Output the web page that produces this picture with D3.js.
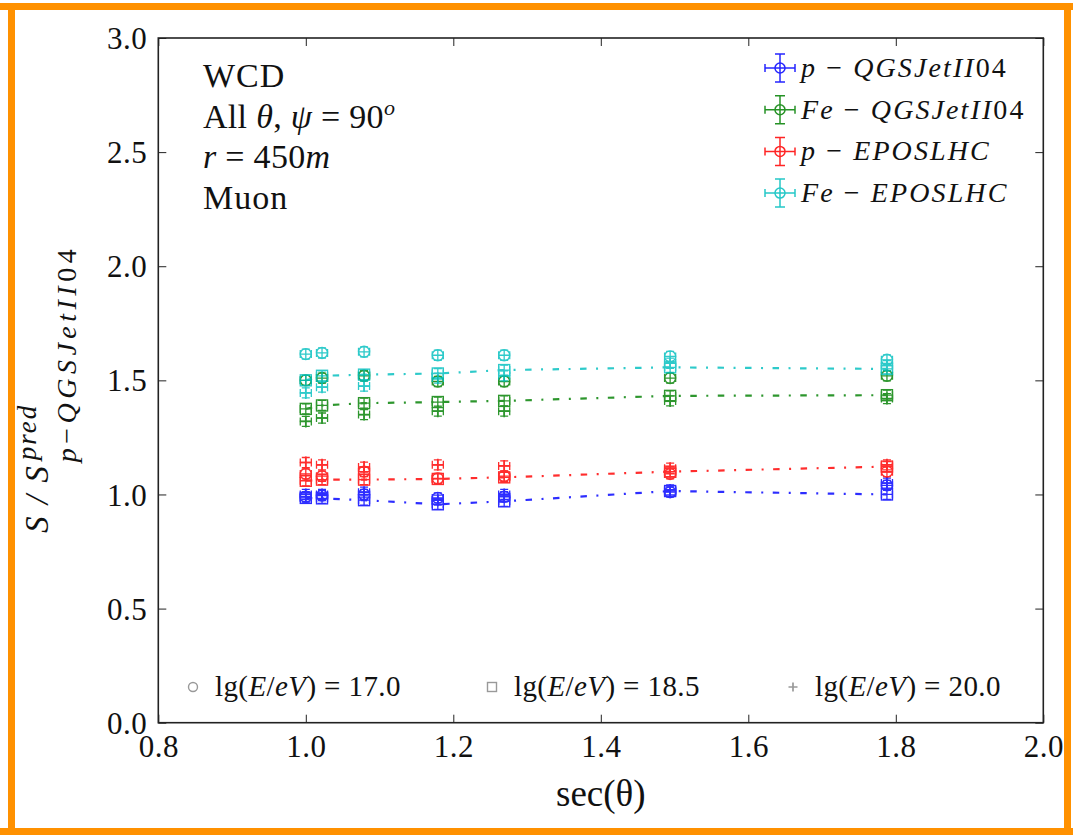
<!DOCTYPE html>
<html>
<head>
<meta charset="utf-8">
<script src="https://cdn.jsdelivr.net/npm/d3@7"></script>
<style>
  html, body { margin: 0; padding: 0; background: #fff; }
  svg { display: block; }
  text { font-family: "Liberation Serif", "DejaVu Serif", serif; fill: #111; }
</style>
</head>
<body>
<svg id="chart" width="1073" height="835"></svg>
<script>
// sec(theta) of the simulated zenith angles
const secTheta = [1.0, 1.022, 1.079, 1.179, 1.269, 1.494, 1.788];

// Energy bins (lg(E/eV))
const energyLabels = ["17.0", "18.5", "20.0"];

// S / S_pred(p-QGSJetII04), one array per primary/model and energy
const pQGS_17  = [0.99, 0.995, 1.00, 0.985, 0.99, 1.01, 1.04];
const pQGS_185 = [0.985, 0.983, 0.975, 0.957, 0.97, 1.015, 1.00];
const pQGS_20  = [1.00, 1.00, 1.01, 0.975, 1.00, 1.02, 1.05];

const feQGS_17  = [1.50, 1.51, 1.52, 1.495, 1.495, 1.51, 1.52];
const feQGS_185 = [1.375, 1.39, 1.40, 1.405, 1.41, 1.432, 1.435];
const feQGS_20  = [1.32, 1.335, 1.35, 1.365, 1.365, 1.41, 1.42];

const pEPOS_17  = [1.09, 1.08, 1.10, 1.07, 1.08, 1.09, 1.10];
const pEPOS_185 = [1.06, 1.065, 1.065, 1.068, 1.075, 1.10, 1.122];
const pEPOS_20  = [1.14, 1.13, 1.12, 1.13, 1.125, 1.115, 1.13];

const feEPOS_17  = [1.615, 1.62, 1.625, 1.61, 1.61, 1.605, 1.59];
const feEPOS_185 = [1.50, 1.52, 1.525, 1.53, 1.545, 1.557, 1.55];
const feEPOS_20  = [1.445, 1.47, 1.475, 1.51, 1.52, 1.575, 1.565];

// Legend names: primary and hadronic model
const seriesPrimary = ["p", "Fe", "p", "Fe"];
const seriesModel   = ["QGSJetII04", "QGSJetII04", "EPOSLHC", "EPOSLHC"];

// Uncertainties (sec(theta) and ratio)
const errSec = 0.0075;
const errRatio = 0.022;

// Axis ticks
const xTicks = [0.8, 1.0, 1.2, 1.4, 1.6, 1.8, 2.0];
const yTicks = [0.0, 0.5, 1.0, 1.5, 2.0, 2.5, 3.0];

// Info text lines
const infoLines = ["WCD", "All θ, ψ = 90o", "r = 450m", "Muon"];

// ---------------------------------------------------------------
const seriesValues = [
  [pQGS_17, pQGS_185, pQGS_20],
  [feQGS_17, feQGS_185, feQGS_20],
  [pEPOS_17, pEPOS_185, pEPOS_20],
  [feEPOS_17, feEPOS_185, feEPOS_20]
];
const seriesColors = ["#0000ff", "#008000", "#ff0000", "#00bfbf"];
const markerTypes = ["circle", "square", "plus"];
const serif = '"Liberation Serif", "DejaVu Serif", serif';

const svg = d3.select("#chart");

// orange frame around the figure
const border = svg.append("g").attr("fill", "#ff9100");
border.append("rect").attr("x", 0).attr("y", 3).attr("width", 1073).attr("height", 7);
border.append("rect").attr("x", 8).attr("y", 3).attr("width", 7).attr("height", 832);
border.append("rect").attr("x", 0).attr("y", 828).attr("width", 1073).attr("height", 7);
border.append("rect").attr("x", 1064).attr("y", 3).attr("width", 7).attr("height", 832);

const plot = { left: 158.3, right: 1043.3, top: 38, bottom: 722.7 };
const x = d3.scaleLinear().domain([0.8, 2.0]).range([plot.left, plot.right]);
const y = d3.scaleLinear().domain([0, 3]).range([plot.bottom, plot.top]);

// axes with inward ticks on all four sides
const tickLen = 8;
const axBottom = svg.append("g").attr("transform", `translate(0,${plot.bottom})`)
  .call(d3.axisBottom(x).tickValues(xTicks).tickSizeInner(-tickLen).tickSizeOuter(0).tickPadding(12).tickFormat(d3.format(".1f")));
const axTop = svg.append("g").attr("transform", `translate(0,${plot.top})`)
  .call(d3.axisTop(x).tickValues(xTicks).tickSizeInner(-tickLen).tickSizeOuter(0).tickFormat(""));
const axLeft = svg.append("g").attr("transform", `translate(${plot.left},0)`)
  .call(d3.axisLeft(y).tickValues(yTicks).tickSizeInner(-tickLen).tickSizeOuter(0).tickPadding(11).tickFormat(d3.format(".1f")));
const axRight = svg.append("g").attr("transform", `translate(${plot.right},0)`)
  .call(d3.axisRight(y).tickValues(yTicks).tickSizeInner(-tickLen).tickSizeOuter(0).tickFormat(""));

[axBottom, axTop, axLeft, axRight].forEach(a => {
  a.attr("font-family", serif);
  a.select(".domain").remove();
  a.selectAll(".tick line").attr("stroke", "#222").attr("stroke-width", 1);
  a.selectAll(".tick text").attr("font-size", 31).attr("fill", "#111").attr("letter-spacing", 0.5);
});
axBottom.selectAll(".tick text").attr("dy", "0.71em");
axLeft.selectAll(".tick text").attr("dy", "0.34em");

svg.append("rect")
  .attr("x", plot.left).attr("y", plot.top)
  .attr("width", plot.right - plot.left).attr("height", plot.bottom - plot.top)
  .attr("fill", "none").attr("stroke", "#222").attr("stroke-width", 1.6);

// ---------------------------------------------------------------
// marker glyphs
function drawMarker(g, type, cx, cy, color, size) {
  if (type === "circle") {
    g.append("circle").attr("cx", cx).attr("cy", cy).attr("r", size / 2)
      .attr("fill", "none").attr("stroke", color).attr("stroke-width", 1.4);
  } else if (type === "square") {
    g.append("rect").attr("x", cx - size / 2).attr("y", cy - size / 2)
      .attr("width", size).attr("height", size)
      .attr("fill", "none").attr("stroke", color).attr("stroke-width", 1.4);
  } else {
    g.append("path")
      .attr("d", `M${cx - size / 2},${cy}H${cx + size / 2}M${cx},${cy - size / 2}V${cy + size / 2}`)
      .attr("fill", "none").attr("stroke", color).attr("stroke-width", 1.7);
  }
}

// error bars with caps, then the marker
function drawPoint(g, type, sx, val, color) {
  const cx = x(sx), cy = y(val);
  const y0 = y(val - errRatio), y1 = y(val + errRatio);
  const x0 = x(sx - errSec), x1 = x(sx + errSec);
  const cap = 4;
  g.append("path")
    .attr("d", `M${cx},${y0}V${y1}M${cx - cap},${y0}H${cx + cap}M${cx - cap},${y1}H${cx + cap}` +
               `M${x0},${cy}H${x1}M${x0},${cy - cap}V${cy + cap}M${x1},${cy - cap}V${cy + cap}`)
    .attr("fill", "none").attr("stroke", color).attr("stroke-width", 1.3);
  drawMarker(g, type, cx, cy, color, type === "plus" ? 12 : 11);
}

const dataLayer = svg.append("g");
seriesValues.forEach((energySets, si) => {
  const color = seriesColors[si];
  const g = dataLayer.append("g").attr("opacity", 0.82);
  energySets.forEach((vals, ei) => {
    vals.forEach((v, i) => drawPoint(g, markerTypes[ei], secTheta[i], v, color));
  });
  // dash-dot trend through the lg(E/eV) = 18.5 points
  const line = d3.line().x((d, i) => x(secTheta[i])).y(d => y(d));
  g.append("path").datum(energySets[1]).attr("d", line)
    .attr("fill", "none").attr("stroke", color).attr("stroke-width", 2.2)
    .attr("stroke-dasharray", "6.5,9.5,2,9.5");
});

// ---------------------------------------------------------------
// rich text helper: parts = [[string, italic, dy, size]]
function richText(parent, tx, ty, parts, size, attrs) {
  const t = parent.append("text").attr("x", tx).attr("y", ty).attr("font-size", size);
  Object.entries(attrs || {}).forEach(([k, v]) => t.attr(k, v));
  parts.forEach(p => {
    const ts = t.append("tspan").text(p[0]).attr("font-style", p[1] ? "italic" : "normal");
    if (p[2]) ts.attr("dy", p[2]);
    if (p[3]) ts.attr("font-size", p[3]);
  });
  return t;
}

// model name: letters italic, digits upright
function modelParts(name) {
  return name.match(/[A-Za-z]+|[0-9]+/g).map(s => [s, /[A-Za-z]/.test(s)]);
}

// info block
const info = svg.append("g");
richText(info, 203, 87, [[infoLines[0], false]], 34, { "letter-spacing": 1 });
richText(info, 203, 128, [["All ", false], ["θ", true], [", ", false], ["ψ", true], [" = 90", false], ["o", true, -13, 22]], 34, { "letter-spacing": 0.3 });
richText(info, 203, 168, [["r", true], [" = 450", false], ["m", true]], 34, { "letter-spacing": 0.3 });
richText(info, 203, 209, [[infoLines[3], false]], 34, { "letter-spacing": 1 });

// series legend (top right)
const leg = svg.append("g");
seriesPrimary.forEach((prim, i) => {
  const cy = 68 + i * 41.7, cx = 780, color = seriesColors[i];
  const lg = leg.append("g").attr("opacity", 0.85);
  lg.append("path")
    .attr("d", `M${cx - 15},${cy}H${cx + 15}M${cx - 15},${cy - 4}V${cy + 4}M${cx + 15},${cy - 4}V${cy + 4}` +
               `M${cx},${cy - 14}V${cy + 14}M${cx - 5},${cy - 14}H${cx + 5}M${cx - 5},${cy + 14}H${cx + 5}`)
    .attr("fill", "none").attr("stroke", color).attr("stroke-width", 1.5);
  lg.append("circle").attr("cx", cx).attr("cy", cy).attr("r", 5)
    .attr("fill", "none").attr("stroke", color).attr("stroke-width", 1.5);
  richText(leg, 801, cy + 9, [[prim, true], [" − ", false]].concat(modelParts(seriesModel[i])), 28, { "letter-spacing": 2.1 });
});

// energy legend (bottom)
const eLeg = svg.append("g");
const eX = [193, 492, 793];
energyLabels.forEach((lab, i) => {
  const g = eLeg.append("g");
  drawMarker(g, markerTypes[i], eX[i], 687, "#999", 9);
  richText(eLeg, eX[i] + 22, 696,
    [["lg(", false], ["E", true], ["/", false], ["eV", true], [") = " + lab, false]], 29, { "letter-spacing": 0.4 });
});

// axis titles
svg.append("text").attr("x", (plot.left + plot.right) / 2).attr("y", 806)
  .attr("text-anchor", "middle").attr("font-size", 37)
  .text("sec(θ)");

const yl = svg.append("g").attr("transform", "translate(48,533) rotate(-90)");
const mainS = yl.append("text").attr("x", 0).attr("y", 0).attr("font-size", 33)
  .attr("font-style", "italic").attr("letter-spacing", 2).text("S / S");
const w = mainS.node().getComputedTextLength();
yl.append("text").attr("x", w + 4).attr("y", -12).attr("font-size", 27)
  .attr("font-style", "italic").attr("letter-spacing", 2).text("pred");
richText(yl, w + 2, 28, [["p", true], ["−", false]].concat(modelParts(seriesModel[0])), 28, { "letter-spacing": 4.5 });
</script>
</body>
</html>
